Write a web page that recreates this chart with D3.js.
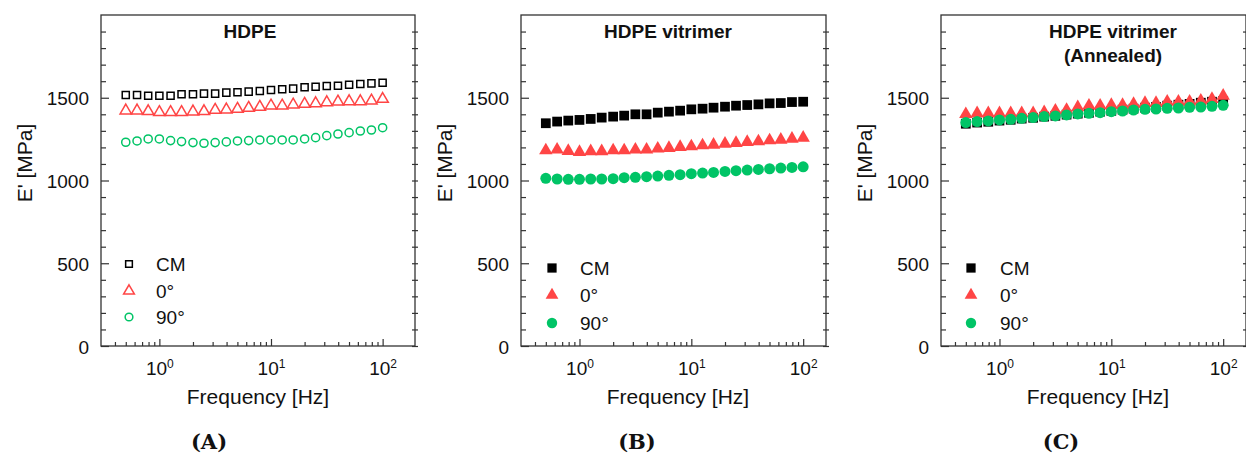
<!DOCTYPE html>
<html><head><meta charset="utf-8">
<script src="https://cdn.jsdelivr.net/npm/d3@7"></script>
<style>
html,body{margin:0;padding:0;background:#fff;}
svg{display:block;}
text{font-family:"Liberation Sans",Arial,sans-serif;fill:#111;}
</style></head>
<body>
<svg id="chart" width="1246" height="454"></svg>
<script>
// ---------- data ----------
const freq = [0.5, 0.631, 0.794, 1, 1.26, 1.58, 2, 2.51, 3.16, 3.98, 5.01, 6.31, 7.94, 10, 12.6, 15.8, 20, 25.1, 31.6, 39.8, 50.1, 63.1, 79.4, 100];
const seriesNames = ["CM", "0°", "90°"];
const panelTitles = [["HDPE"], ["HDPE vitrimer"], ["HDPE vitrimer", "(Annealed)"]];
const panelLetters = ["(A)", "(B)", "(C)"];
const yTicks = [0, 500, 1000, 1500];
const xMajorTicks = [1, 10, 100];

const hdpeCM = [1517,1517,1512,1512,1512,1521,1521,1525,1525,1531,1533,1537,1541,1547,1551,1555,1563,1567,1571,1573,1579,1583,1587,1591];
const hdpe0  = [1422,1422,1418,1412,1412,1412,1416,1418,1426,1428,1432,1438,1444,1452,1452,1458,1462,1466,1472,1476,1478,1478,1482,1492];
const hdpe90 = [1231,1239,1251,1251,1241,1235,1229,1225,1229,1233,1239,1241,1245,1245,1245,1245,1251,1259,1271,1281,1289,1299,1305,1319];

const vitCM = [1346,1356,1362,1366,1372,1380,1386,1392,1400,1400,1410,1416,1422,1430,1434,1440,1446,1452,1456,1460,1466,1468,1474,1476];
const vit0  = [1182,1186,1178,1172,1176,1176,1182,1182,1186,1186,1192,1196,1202,1206,1212,1216,1222,1226,1232,1236,1242,1246,1252,1258];
const vit90 = [1013,1009,1007,1007,1009,1009,1011,1017,1019,1023,1027,1031,1035,1041,1045,1049,1055,1059,1063,1067,1071,1075,1079,1083];

const annCM = [1343,1350,1355,1362,1367,1374,1379,1386,1391,1398,1404,1409,1416,1421,1428,1434,1440,1445,1452,1458,1463,1470,1476,1481];
const ann0  = [1401,1406,1406,1406,1406,1406,1406,1412,1422,1426,1442,1452,1452,1456,1456,1462,1468,1468,1476,1476,1476,1482,1492,1512];
const ann90 = [1350,1356,1360,1366,1370,1376,1380,1386,1390,1396,1402,1406,1410,1416,1420,1426,1430,1432,1436,1438,1442,1444,1448,1454];

const panelData = [[hdpeCM, hdpe0, hdpe90], [vitCM, vit0, vit90], [annCM, ann0, ann90]];

// ---------- layout ----------
const colors = ["#000000", "#ff4545", "#00c466"];
const shapes = [d3.symbolSquare, d3.symbolTriangle, d3.symbolCircle];
const panels = [
  {left: 101, width: 314, xmax: 195, filled: false, legX: 28, legTX: 55, legY: [264, 291, 317], titleX: 149},
  {left: 521, width: 305, xmax: 160, filled: true,  legX: 31, legTX: 59, legY: [268, 295, 323], titleX: 147},
  {left: 941, width: 305, xmax: 160, filled: true,  legX: 30, legTX: 59, legY: [268, 295, 323], titleX: 172}
];
const plotTop = 15, plotBottom = 346, h = plotBottom - plotTop;
const openSizes = [50, 56, 52], filledSizes = [95, 78, 95];
const letterX = [209, 637, 1061];

const svg = d3.select("#chart");

panels.forEach((p, pi) => {
  const g = svg.append("g").attr("transform", `translate(${p.left},${plotTop})`);
  const x = d3.scaleLog().domain([0.3, p.xmax]).range([0, p.width]);
  const y = d3.scaleLinear().domain([0, 2000]).range([h, 0]);

  // y minor ticks
  const yMinor = d3.range(0, 2000, 100).filter(v => v % 500 !== 0);
  g.append("g").call(d3.axisLeft(y).tickValues(yMinor).tickSizeInner(-5).tickSizeOuter(0).tickFormat(""))
    .call(a => a.select(".domain").remove())
    .selectAll("line").attr("stroke", "#333").attr("stroke-width", 1.2);
  // y major ticks + labels
  const ya = g.append("g").call(d3.axisLeft(y).tickValues(yTicks).tickSizeInner(-8).tickSizeOuter(0).tickFormat(d3.format("d")));
  ya.select(".domain").remove();
  ya.selectAll("line").attr("stroke", "#333").attr("stroke-width", 1.2);
  ya.selectAll("text").attr("x", -12).attr("dy", "0.37em").style("font-size", "19px")
    .style("font-family", '"Liberation Sans",Arial,sans-serif').attr("fill", "#111");

  // right ticks (crossing)
  const yAll = d3.range(0, 2000, 100);
  g.append("g").attr("transform", `translate(${p.width - 3},0)`)
    .call(d3.axisRight(y).tickValues(yAll).tickSizeInner(6).tickSizeOuter(0).tickFormat(""))
    .call(a => a.select(".domain").remove())
    .selectAll("line").attr("stroke", "#333").attr("stroke-width", 1.2);

  // x minor ticks
  const xMinor = [0.4,0.5,0.6,0.7,0.8,0.9,2,3,4,5,6,7,8,9,20,30,40,50,60,70,80,90].filter(v => v < p.xmax);
  g.append("g").attr("transform", `translate(0,${h})`)
    .call(d3.axisBottom(x).tickValues(xMinor).tickSizeInner(-4).tickSizeOuter(0).tickFormat(""))
    .call(a => a.select(".domain").remove())
    .selectAll("line").attr("stroke", "#333").attr("stroke-width", 1.2);
  // x major ticks
  const xa = g.append("g").attr("transform", `translate(0,${h})`)
    .call(d3.axisBottom(x).tickValues(xMajorTicks).tickSizeInner(-7).tickSizeOuter(0).tickFormat(""));
  xa.select(".domain").remove();
  xa.selectAll("line").attr("stroke", "#333").attr("stroke-width", 1.2);
  xa.selectAll("text").each(function(d) {
    const t = d3.select(this);
    t.attr("y", 29).attr("dy", null).attr("fill", "#111")
      .style("font-size", "19px").style("font-family", '"Liberation Sans",Arial,sans-serif');
    t.append("tspan").text("10");
    t.append("tspan").attr("dy", "-0.62em").style("font-size", "12px").text(Math.round(Math.log10(d)));
  });

  // frame
  g.append("rect").attr("x", 0).attr("y", 0).attr("width", p.width).attr("height", h)
    .attr("fill", "none").attr("stroke", "#333").attr("stroke-width", 1.3);

  // data
  panelData[pi].forEach((vals, si) => {
    const sym = d3.symbol().type(shapes[si]).size(p.filled ? filledSizes[si] : openSizes[si]);
    g.append("g").selectAll("path").data(vals).join("path")
      .attr("transform", (v, i) => `translate(${x(freq[i])},${y(v)})`)
      .attr("d", sym)
      .attr("fill", p.filled ? colors[si] : "none")
      .attr("stroke", p.filled ? "none" : colors[si])
      .attr("stroke-width", p.filled ? 0 : 1.5);
  });

  // legend
  seriesNames.forEach((name, si) => {
    const sym = d3.symbol().type(shapes[si]).size(p.filled ? filledSizes[si] * 0.9 : openSizes[si] * 0.9);
    const ly = p.legY[si] - plotTop;
    g.append("path").attr("transform", `translate(${p.legX},${ly})`).attr("d", sym)
      .attr("fill", p.filled ? colors[si] : "none")
      .attr("stroke", p.filled ? "none" : colors[si]).attr("stroke-width", 1.5);
    g.append("text").attr("x", p.legTX).attr("y", ly + 7).style("font-size", "19px").text(name);
  });

  // title
  panelTitles[pi].forEach((line, li) => {
    g.append("text").attr("x", p.titleX).attr("y", 38 - plotTop + li * 24)
      .attr("text-anchor", "middle").style("font-size", "19px").style("font-weight", "bold").text(line);
  });

  // axis titles
  g.append("text").attr("x", 157).attr("y", 404 - plotTop).attr("text-anchor", "middle")
    .style("font-size", "21px").text("Frequency [Hz]");
  g.append("text").attr("transform", `translate(-69,${163 - plotTop}) rotate(-90)`)
    .attr("text-anchor", "middle").style("font-size", "21px").text("E' [MPa]");

  // panel letter
  svg.append("text").attr("x", letterX[pi]).attr("y", 449).attr("text-anchor", "middle")
    .style("font-family", '"DejaVu Serif",serif').style("font-weight", "bold").style("font-size", "21px")
    .text(panelLetters[pi]);
});
</script>
</body></html>
